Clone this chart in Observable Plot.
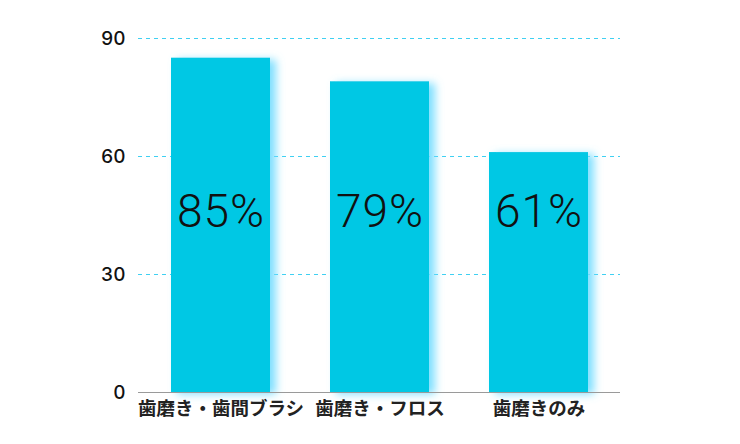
<!DOCTYPE html>
<html><head><meta charset="utf-8">
<script src="https://cdn.jsdelivr.net/npm/d3@7"></script>
<script src="https://cdn.jsdelivr.net/npm/@observablehq/plot@0.6"></script>
<style>
html,body{margin:0;padding:0;background:#fff;}
</style>
</head><body>
<div id="chart"></div>
<script>
const categories = ["歯磨き・歯間ブラシ", "歯磨き・フロス", "歯磨きのみ"];
const values = [85, 79, 61];
const labels = ["85%", "79%", "61%"];
const yTicks = [0, 30, 60, 90];
const gridTicks = [30, 60, 90];

const data = categories.map((c, i) => ({category: c, value: values[i], label: labels[i]}));

const chart = Plot.plot({
  width: 740,
  height: 444,
  marginLeft: 138,
  marginRight: 120,
  marginTop: 38,
  marginBottom: 52,
  style: {fontFamily: "'Noto Sans CJK JP', sans-serif", background: "#fff"},
  x: {domain: categories, paddingInner: 0.38, paddingOuter: 0.2, label: null, tickSize: 0, tickPadding: 8},
  y: {domain: [0, 90], ticks: yTicks, label: null, tickSize: 0, tickPadding: 14},
  marks: [
    Plot.ruleY(gridTicks, {stroke: "#3fd0f2", strokeDasharray: "4,4", strokeWidth: 1.2}),
    Plot.barY(data, {x: "category", y: "value", fill: "#00c8e4"}),
    Plot.ruleY([0], {stroke: "#9a9a9a", strokeWidth: 1}),
    Plot.text(data, {x: "category", y: () => 45.8, text: "label", fontSize: 46, fill: "#111", fontWeight: 300, fontFamily: "Roboto, 'Noto Sans', sans-serif"}),
    Plot.axisY({ticks: yTicks, tickSize: 0, tickPadding: 13, fontSize: 19, fontWeight: 500, fill: "#111", fontFamily: "Inter, 'Liberation Sans', Arial, sans-serif"}),
    Plot.axisX({tickSize: 0, tickPadding: 9, fontSize: 18.5, fontWeight: "bold", fill: "#222"})
  ]
});

const svg = d3.select(chart);
svg.selectAll('g[aria-label="text"] text').style("letter-spacing", "1px");
const defs = svg.insert("defs", ":first-child");
const f = defs.append("filter").attr("id", "glow").attr("x", "-20%").attr("y", "-20%").attr("width", "150%").attr("height", "150%");
f.append("feDropShadow").attr("dx", 6).attr("dy", 2).attr("stdDeviation", 4).attr("flood-color", "#6fdcff").attr("flood-opacity", 0.9);
svg.select('g[aria-label="bar"]').attr("filter", "url(#glow)");
document.getElementById("chart").appendChild(chart);
</script>
</body></html>
